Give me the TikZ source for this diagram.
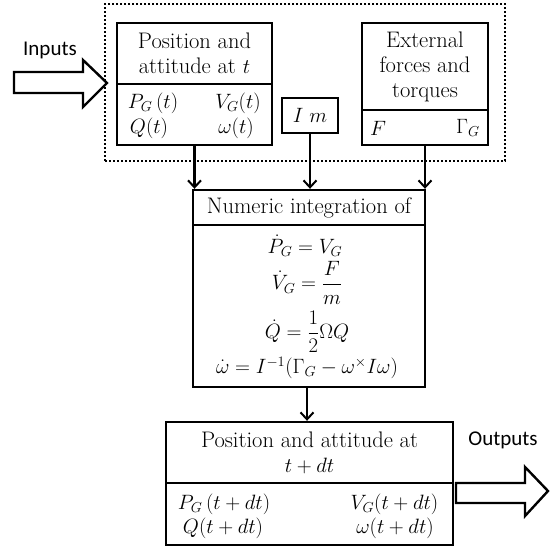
\documentclass[tikz,border=0pt]{standalone}
\usepackage{amsmath}
\usepackage{fontspec}
\newfontfamily\calibri{Carlito}
\usetikzlibrary{arrows.meta}
\begin{document}
\begin{tikzpicture}[x=1pt,y=-1pt,
  every node/.style={font=\fontsize{22.5}{25}\selectfont, inner sep=0pt},
  boxpart/.style={draw, line width=2.4pt, rectangle},
  conn/.style={line width=2.2pt, -{Straight Barb[length=7pt,width=13pt,line width=2pt]}},
  blockarrow/.style={draw, line width=2.4pt, fill=white, line join=miter},
  lbl/.style={font=\calibri\fontsize{21}{24}\selectfont}]
\useasboundingbox (0,0) rectangle (557,547);

% dotted input frame
\node[draw, line width=2.2pt, dash pattern=on 2pt off 2pt, minimum width=400pt, minimum height=157pt] (frame) at (305,82.5) {};

% Position and attitude at t
\node[boxpart, minimum width=155pt, minimum height=61pt, align=center] (p1top) at (194.5,53.5) {Position and\\attitude at $t$};
\node[boxpart, minimum width=155pt, minimum height=61pt] (p1bot) at (194.5,114.5) {};
\node (pg) at (153,103) {$P_G\,(t)$};
\node (vg) at (238,103) {$V_G(t)$};
\node (q) at (149,128) {$Q(t)$};
\node (w) at (236,128) {$\omega(t)$};

% I m
\node[boxpart, minimum width=56pt, minimum height=35pt] (im) at (310,115.5) {$I\;m$};

% External forces and torques
\node[boxpart, minimum width=126pt, minimum height=87pt, align=center] (extop) at (425,66.5) {External\\forces and\\torques};
\node[boxpart, minimum width=126pt, minimum height=35pt] (exbot) at (425,127.5) {};
\node (f) at (378,128) {$F$};
\node (gg) at (468,128) {$\Gamma_G$};

% Numeric integration
\node[boxpart, minimum width=232pt, minimum height=35pt] (numtop) at (309,207.5) {Numeric integration of};
\node[boxpart, minimum width=232pt, minimum height=162pt] (numbot) at (309,306) {};
\node (e1) at (305,246) {$\dot{P}_G = V_G$};
\node (e2) at (307,283) {$\dot{V}_G = \dfrac{F}{m}$};
\node (e3) at (307,332) {$\dot{Q} = \dfrac{1}{2}\Omega Q$};
\node (e4) at (307,368) {$\dot{\omega} = I^{-1}(\Gamma_G - \omega^{\times} I\omega)$};

% Position and attitude at t+dt
\node[boxpart, minimum width=287pt, minimum height=61pt, align=center] (p2top) at (309.5,452.5) {Position and attitude at\\$t+dt$};
\node[boxpart, minimum width=287pt, minimum height=62pt] (p2bot) at (309.5,514) {};
\node (pg2) at (224,504) {$P_G\,(t+dt)$};
\node (vg2) at (394.5,504) {$V_G(t+dt)$};
\node (q2) at (223,528) {$Q(t+dt)$};
\node (w2) at (395,528) {$\omega(t+dt)$};

% connectors
\draw[conn] (p1bot.south) -- (p1bot.south |- numtop.north);
\draw[conn] (im.south) -- (im.south |- numtop.north);
\draw[conn] (exbot.south) -- (exbot.south |- numtop.north);
\draw[conn] (numbot.south -| e3) -- (e3 |- p2top.north);

% Inputs block arrow
\node[lbl] (inlbl) at (50,50) {Inputs};
\coordinate (intip) at (107,83);
\draw[blockarrow] (14,72) -- (83,72) -- (83,60) -- (intip) -- (83,107) -- (83,93) -- (14,93) -- cycle;

% Outputs block arrow
\node[lbl] (outlbl) at (503,440) {Outputs};
\coordinate (outtip) at (548,491);
\draw[blockarrow] (456,483) -- (525,483) -- (525,467) -- (outtip) -- (525,516) -- (525,503) -- (456,503) -- cycle;
\end{tikzpicture}
\end{document}
